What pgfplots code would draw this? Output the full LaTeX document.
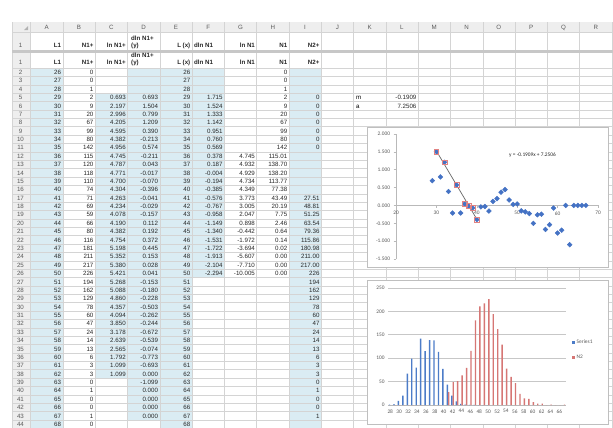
\documentclass[border=0pt]{standalone}
\usepackage{pgfplots}
\pgfplotsset{compat=1.18}
\usepackage{fontspec}
\setmainfont{Liberation Sans}
\newfontfamily\chartfont{Carlito}

\definecolor{cellblue}{RGB}{218,236,243}
\definecolor{gridc}{RGB}{212,212,212}
\definecolor{hdrfill}{RGB}{238,238,238}
\definecolor{hdrtext}{RGB}{90,90,90}
\definecolor{xlblue}{RGB}{68,114,196}
\definecolor{xlred}{RGB}{192,80,77}
\definecolor{barred}{RGB}{214,118,116}
\definecolor{barblue}{RGB}{76,124,200}
\definecolor{axgray}{RGB}{185,185,185}
\definecolor{lblgray}{RGB}{89,89,89}
\definecolor{trendpink}{RGB}{225,130,130}

\newcommand\cellfont{\fontsize{6.2}{7}\selectfont}
\newcommand\chfont{\chartfont\fontsize{5.4}{6}\selectfont}
\tikzset{cv/.style={anchor=base east,inner sep=0pt,font=\cellfont,text=black!85},
         hb/.style={anchor=base east,inner sep=0pt,font=\bfseries\cellfont,text=black!85},
         hl/.style={anchor=base west,inner sep=0pt,font=\bfseries\cellfont,text=black!85}}

% row macro: #1 row, #2 B, #3 C, #4 D, #5 F, #6 G, #7 H, #8 I
\newcommand\R[8]{%
  \pgfmathsetmacro\yb{72.2+(#1-2)*8.38+2.3}%
  \pgfmathtruncatemacro\LL{#1+24}%
  \node[anchor=base,inner sep=0pt,font=\cellfont,text=hdrtext] at (20.5,\yb) {#1};
  \node[cv] at (61.3,\yb) {\LL};
  \node[cv] at (93.6,\yb) {#2};
  \node[cv] at (125.9,\yb) {#3};
  \node[cv] at (158.2,\yb) {#4};
  \node[cv] at (190.5,\yb) {\LL};
  \node[cv] at (222.8,\yb) {#5};
  \node[cv] at (255.1,\yb) {#6};
  \node[cv] at (287.4,\yb) {#7};
  \node[cv] at (319.7,\yb) {#8};
}
\newcommand\hdr[2]{%
  \node[anchor=base,inner sep=0pt,font=\cellfont,text=hdrtext] at (20.5,#1) {1};
  \node[hb] at (61.3,#1) {L1};
  \node[hb] at (93.6,#1) {N1+};
  \node[hb] at (125.9,#1) {ln N1+};
  \node[hl] at (131,#2) {dln N1+};
  \node[hl] at (131,#1) {(y)};
  \node[hb] at (190.5,#1) {L (x)};
  \node[hl] at (194,#1) {dln N1};
  \node[hb] at (255.1,#1) {ln N1};
  \node[hb] at (287.4,#1) {N1};
  \node[hb] at (319.7,#1) {N2+};
}

\begin{document}
\begin{tikzpicture}
\useasboundingbox (0,0) rectangle (613bp,-428bp);
\fill[white] (0,0) rectangle (613bp,-428bp);
\begin{scope}[x=1bp,y=-1bp]
  % cell fills
  \fill[cellblue] (30.5,68) rectangle (62.8,428.5);
  \fill[cellblue] (95.1,93.14) rectangle (127.4,378.06);
  \fill[cellblue] (127.4,68) rectangle (159.7,419.96);
  \fill[cellblue] (159.7,68) rectangle (192,428.5);
  \fill[cellblue] (192,68) rectangle (224.3,277.5);
  \fill[cellblue] (288.9,68) rectangle (321.2,428.5);
  % headers
  \fill[hdrfill] (12,22) rectangle (613,32);
  \fill[hdrfill] (12,32) rectangle (30.5,428.5);
  % grid
  \foreach \k in {0,...,43} {\draw[gridc,line width=0.4bp] (12,68+\k*8.38) -- (613,68+\k*8.38);}
  \foreach \k in {0,...,18} {\draw[gridc,line width=0.4bp] (30.5+\k*32.3,22) -- (30.5+\k*32.3,428.5);}
  \draw[gridc,line width=0.4bp] (12,22) -- (12,428.5);
  \draw[gridc,line width=0.4bp] (12,32) -- (613,32);
  \fill[black!22] (12,50) rectangle (613,53);
  \fill[gray!60] (24,30) -- (28,30) -- (28,26) -- cycle;
  \foreach \c [count=\k from 0] in {A,B,C,D,E,F,G,H,I,J,K,L,M,N,O,P,Q,R}
    {\node[anchor=base,inner sep=0pt,font=\cellfont,text=hdrtext] at (46.65+\k*32.3,29.3) {\c};}
  \hdr{47}{40}
  \hdr{64.5}{57.5}
  \R{2}{0}{}{}{}{}{0}{}
  \R{3}{0}{}{}{}{}{0}{}
  \R{4}{1}{}{}{}{}{1}{}
  \R{5}{2}{0.693}{0.693}{1.715}{}{2}{0}
  \R{6}{9}{2.197}{1.504}{1.524}{}{9}{0}
  \R{7}{20}{2.996}{0.799}{1.333}{}{20}{0}
  \R{8}{67}{4.205}{1.209}{1.142}{}{67}{0}
  \R{9}{99}{4.595}{0.390}{0.951}{}{99}{0}
  \R{10}{80}{4.382}{-0.213}{0.760}{}{80}{0}
  \R{11}{142}{4.956}{0.574}{0.569}{}{142}{0}
  \R{12}{115}{4.745}{-0.211}{0.378}{4.745}{115.01}{}
  \R{13}{120}{4.787}{0.043}{0.187}{4.932}{138.70}{}
  \R{14}{118}{4.771}{-0.017}{-0.004}{4.929}{138.20}{}
  \R{15}{110}{4.700}{-0.070}{-0.194}{4.734}{113.77}{}
  \R{16}{74}{4.304}{-0.396}{-0.385}{4.349}{77.38}{}
  \R{17}{71}{4.263}{-0.041}{-0.576}{3.773}{43.49}{27.51}
  \R{18}{69}{4.234}{-0.029}{-0.767}{3.005}{20.19}{48.81}
  \R{19}{59}{4.078}{-0.157}{-0.958}{2.047}{7.75}{51.25}
  \R{20}{66}{4.190}{0.112}{-1.149}{0.898}{2.46}{63.54}
  \R{21}{80}{4.382}{0.192}{-1.340}{-0.442}{0.64}{79.36}
  \R{22}{116}{4.754}{0.372}{-1.531}{-1.972}{0.14}{115.86}
  \R{23}{181}{5.198}{0.445}{-1.722}{-3.694}{0.02}{180.98}
  \R{24}{211}{5.352}{0.153}{-1.913}{-5.607}{0.00}{211.00}
  \R{25}{217}{5.380}{0.028}{-2.104}{-7.710}{0.00}{217.00}
  \R{26}{226}{5.421}{0.041}{-2.294}{-10.005}{0.00}{226}
  \R{27}{194}{5.268}{-0.153}{}{}{}{194}
  \R{28}{162}{5.088}{-0.180}{}{}{}{162}
  \R{29}{129}{4.860}{-0.228}{}{}{}{129}
  \R{30}{78}{4.357}{-0.503}{}{}{}{78}
  \R{31}{60}{4.094}{-0.262}{}{}{}{60}
  \R{32}{47}{3.850}{-0.244}{}{}{}{47}
  \R{33}{24}{3.178}{-0.672}{}{}{}{24}
  \R{34}{14}{2.639}{-0.539}{}{}{}{14}
  \R{35}{13}{2.565}{-0.074}{}{}{}{13}
  \R{36}{6}{1.792}{-0.773}{}{}{}{6}
  \R{37}{3}{1.099}{-0.693}{}{}{}{3}
  \R{38}{3}{1.099}{0.000}{}{}{}{3}
  \R{39}{0}{}{-1.099}{}{}{}{0}
  \R{40}{1}{}{0.000}{}{}{}{1}
  \R{41}{0}{}{0.000}{}{}{}{0}
  \R{42}{0}{}{0.000}{}{}{}{0}
  \R{43}{1}{}{0.000}{}{}{}{1}
  \R{44}{0}{}{}{}{}{}{}
  % m and a
  \node[anchor=base west,inner sep=0pt,font=\cellfont] at (356,99.6) {m};
  \node[cv] at (416.6,99.6) {-0.1909};
  \node[anchor=base west,inner sep=0pt,font=\cellfont] at (356,108) {a};
  \node[cv] at (416.6,108) {7.2506};
  % chart frames
  \draw[fill=white,draw=black!25,line width=0.6bp] (367,127) rectangle (608,267);
  \draw[fill=white,draw=black!25,line width=0.6bp] (367,280) rectangle (608,424);
\end{scope}

% ---------- scatter chart ----------
\begin{axis}[at={(396bp,-259bp)}, anchor=south west, scale only axis,
  width=202bp, height=125bp,
  xmin=20, xmax=70, ymin=-1.5, ymax=2,
  axis x line=middle, axis y line=left,
  hide obscured x ticks=false,
  axis line style={draw=axgray,line width=0.6bp,-},
  xtick={20,30,40,50,60,70},
  ytick={-1.5,-1,-0.5,0,0.5,1,1.5,2},
  tick style={draw=axgray,line width=0.6bp},
  major tick length=2.5bp, tick align=outside,
  /pgf/number format/assume math mode=true,
  xticklabel style={font=\chfont,text=lblgray},
  yticklabel style={font=\chfont,text=lblgray,/pgf/number format/.cd,fixed,fixed zerofill,precision=3},
  clip=false]
\addplot[only marks, mark=square*, mark size=1.7bp, mark options={rotate=45, fill=xlblue, draw=xlblue}]
 coordinates {(29,0.693) (30,1.504) (31,0.799) (32,1.209) (33,0.390) (34,-0.213) (35,0.574)
 (36,-0.211) (37,0.043) (38,-0.017) (39,-0.070) (40,-0.396) (41,-0.041) (42,-0.029) (43,-0.157)
 (44,0.112) (45,0.192) (46,0.372) (47,0.445) (48,0.153) (49,0.028) (50,0.041) (51,-0.153)
 (52,-0.180) (53,-0.228) (54,-0.503) (55,-0.262) (56,-0.244) (57,-0.672) (58,-0.539)
 (59,-0.074) (60,-0.773) (61,-0.693) (62,0.000) (63,-1.099) (64,0.000) (65,0.000) (66,0.000) (67,0.000)};
\addplot[only marks, mark=square, mark size=2.4bp, mark options={draw=trendpink, line width=0.7bp}]
 coordinates {(30,1.504) (32,1.209) (35,0.574) (37,0.043) (38,-0.017) (39,-0.070) (40,-0.396)};
\addplot[black!60, line width=0.7bp] coordinates {(30,1.524) (40,-0.385)};
\node[font=\chfont, text=black!85] at (axis cs:53.8,1.40) {y = -0.1909x + 7.2506};
\end{axis}

% ---------- bar chart ----------
\begin{axis}[at={(388bp,-405bp)}, anchor=south west, scale only axis,
  width=178bp, height=117bp,
  xmin=27.5, xmax=67.5, ymin=0, ymax=250,
  ybar=0pt, bar width=1.4bp,
  axis x line*=bottom, axis y line*=left,
  y axis line style={draw=none},
  x axis line style={draw=axgray,line width=0.6bp,-},
  xtick={28,30,...,66}, ytick={0,50,...,250},
  major tick length=0pt,
  ymajorgrids, grid style={draw=black!22,line width=0.9bp},
  /pgf/number format/assume math mode=true,
  xticklabel style={font=\chfont,text=lblgray,yshift=-1bp},
  yticklabel style={font=\chfont,text=lblgray},
  legend style={at={(1.03,0.47)}, anchor=west, draw=none, fill=none,
    font=\chfont, text=lblgray, row sep=6bp, inner sep=0pt},
  legend cell align=left,
  legend image code/.code={\fill[#1] (0bp,-1.6bp) rectangle (3.2bp,1.6bp);}]
\addplot[fill=barblue, draw=none] coordinates {(28,1) (29,2) (30,9) (31,20) (32,67) (33,99) (34,80)
 (35,142) (36,115.01) (37,138.70) (38,138.20) (39,113.77) (40,77.38) (41,43.49) (42,20.19)
 (43,7.75) (44,2.46) (45,0.64) (46,0.14) (47,0.02) (48,0) (49,0) (50,0)};
\addplot[fill=barred, draw=none] coordinates {(29,0) (30,0) (31,0) (32,0) (33,0) (34,0) (35,0)
 (41,27.51) (42,48.81) (43,51.25) (44,63.54) (45,79.36) (46,115.86) (47,180.98) (48,211.00)
 (49,217.00) (50,226) (51,194) (52,162) (53,129) (54,78) (55,60) (56,47) (57,24) (58,14)
 (59,13) (60,6) (61,3) (62,3) (63,0) (64,1) (65,0) (66,0) (67,1)};
\legend{Series1, N2}
\end{axis}
\end{tikzpicture}
\end{document}
